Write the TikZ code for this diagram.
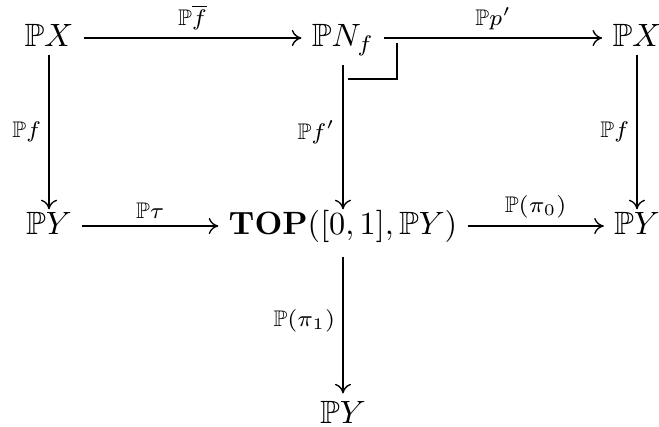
\documentclass[tikz,border=0pt]{standalone}
\usepackage{amsmath,amssymb}
\usepackage{tikz}
\usetikzlibrary{arrows.meta}
\tikzset{
  ar/.style={-{Computer Modern Rightarrow[length=3pt,width=5pt]},line width=0.42pt},
  obj/.style={inner xsep=3pt,inner ysep=1.2pt,text height=1.5ex,text depth=0.25ex},
  lbl/.style={font=\scriptsize,inner sep=2.2pt}
}
\begin{document}
\begin{tikzpicture}[x=0.31pt,y=-0.31pt]
\useasboundingbox (0,0) rectangle (659,426);
% objects
\node[obj] (PXa) at (49,38) {$\mathbb{P}X$};
\node[obj] (PN) at (343,38) {$\mathbb{P}N_f$};
\node[obj] (PXb) at (637,38) {$\mathbb{P}X$};
\node[obj] (PYa) at (49,226) {$\mathbb{P}Y$};
\node[obj] (TOP) at (343,226) {$\mathbf{TOP}([0,1],\mathbb{P}Y)$};
\node[obj] (PYb) at (637,226) {$\mathbb{P}Y$};
\node[obj] (PYc) at (343,415) {$\mathbb{P}Y$};
% arrows
\draw[ar] (PXa) -- (PN) node[midway,above,lbl]{$\mathbb{P}\overline{f}$};
\draw[ar] (PN) -- (PXb) node[midway,above,lbl]{$\mathbb{P}p'$};
\draw[ar] (PYa) -- (TOP) node[midway,above,lbl]{$\mathbb{P}\tau$};
\draw[ar] (TOP) -- (PYb) node[midway,above,lbl]{$\mathbb{P}(\pi_0)$};
\draw[ar] (PXa) -- (PYa) node[midway,left,lbl]{$\mathbb{P}f$};
\draw[ar,shorten <=3.3pt] (PN) -- (TOP) node[midway,left,lbl]{$\mathbb{P}f'$};
\draw[ar] (PXb) -- (PYb) node[midway,left,lbl]{$\mathbb{P}f$};
\draw[ar,shorten <=4.3pt,shorten >=1.5pt] (TOP) -- (PYc) node[midway,left,lbl]{$\mathbb{P}(\pi_1)$};
% pullback corner
\draw[line width=0.42pt] (348,79) -- (397,79) -- (397,43);
\end{tikzpicture}
\end{document}
